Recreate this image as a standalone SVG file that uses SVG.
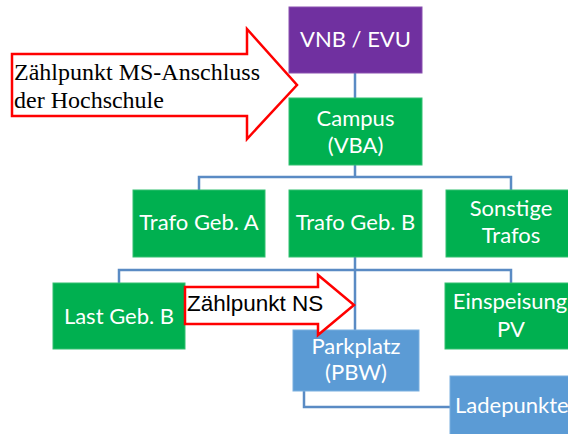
<svg xmlns="http://www.w3.org/2000/svg" width="568" height="434" viewBox="0 0 568 434">
<style>
.g{fill:#00B050;stroke:#33C070;stroke-width:1}
.p{fill:#7030A0;stroke:#8A50B0;stroke-width:1}
.b{fill:#5B9BD5;stroke:#7AAFDF;stroke-width:1}
.t{font-family:Lato,"Open Sans","Noto Sans",sans-serif;font-size:22px;fill:#fff;text-anchor:middle}
.c{fill:none;stroke:#5A8BC4;stroke-width:2.5}
.arr{fill:#fff;stroke:#FF0000;stroke-width:2.5}
</style>
<rect width="568" height="434" fill="#fff"/>
<g id="connectors">
<path class="c" d="M355,73V98"/>
<path class="c" d="M355,165V177M199,190V177H511V190"/>
<path class="c" d="M355,257V330M119,283V270H511V283"/>
<path class="c" d="M304,391V407H450"/>
</g>
<g id="vnb"><rect class="p" x="289" y="7" width="133" height="66"/><text class="t" x="355.5" y="47">VNB / EVU</text></g>
<g id="campus"><rect class="g" x="289" y="98" width="133" height="67"/><text class="t" x="355.5" y="126">Campus</text><text class="t" x="355.5" y="153">(VBA)</text></g>
<g id="trafoA"><rect class="g" x="133" y="190" width="132" height="67"/><text class="t" x="199" y="230">Trafo Geb. A</text></g>
<g id="trafoB"><rect class="g" x="289" y="190" width="133" height="67"/><text class="t" x="355.5" y="230">Trafo Geb. B</text></g>
<g id="sonstige"><rect class="g" x="446" y="190" width="132" height="67"/><text class="t" x="511" y="216">Sonstige</text><text class="t" x="511" y="243">Trafos</text></g>
<g id="lastB"><rect class="g" x="53" y="283" width="132" height="66"/><text class="t" x="119" y="324">Last Geb. B</text></g>
<g id="einspeisung"><rect class="g" x="445" y="283" width="132" height="66"/><text class="t" x="510" y="309">Einspeisung</text><text class="t" x="511" y="337">PV</text></g>
<g id="parkplatz"><rect class="b" x="293" y="330" width="126" height="61"/><text class="t" x="356" y="354">Parkplatz</text><text class="t" x="356" y="380">(PBW)</text></g>
<g id="ladepunkte"><rect class="b" x="450" y="376" width="133" height="66"/><text class="t" x="455" y="413" style="text-anchor:start">Ladepunkte</text></g>
<g id="arrowMS">
<polygon class="arr" points="12,54 247,54 247,29 297,85 247,139 247,116 12,116"/>
<text x="14" y="80" font-family="'Liberation Serif','Times New Roman',serif" font-size="24" fill="#000">Zählpunkt MS-Anschluss</text>
<text x="14" y="108" font-family="'Liberation Serif','Times New Roman',serif" font-size="24" fill="#000">der Hochschule</text>
</g>
<g id="arrowNS">
<polygon class="arr" points="185,287 318,287 318,275 354,305 318,335 318,324 185,324"/>
<text x="187" y="311" font-family="'Liberation Sans',Arial,sans-serif" font-size="22.5" fill="#000">Zählpunkt NS</text>
</g>
</svg>
